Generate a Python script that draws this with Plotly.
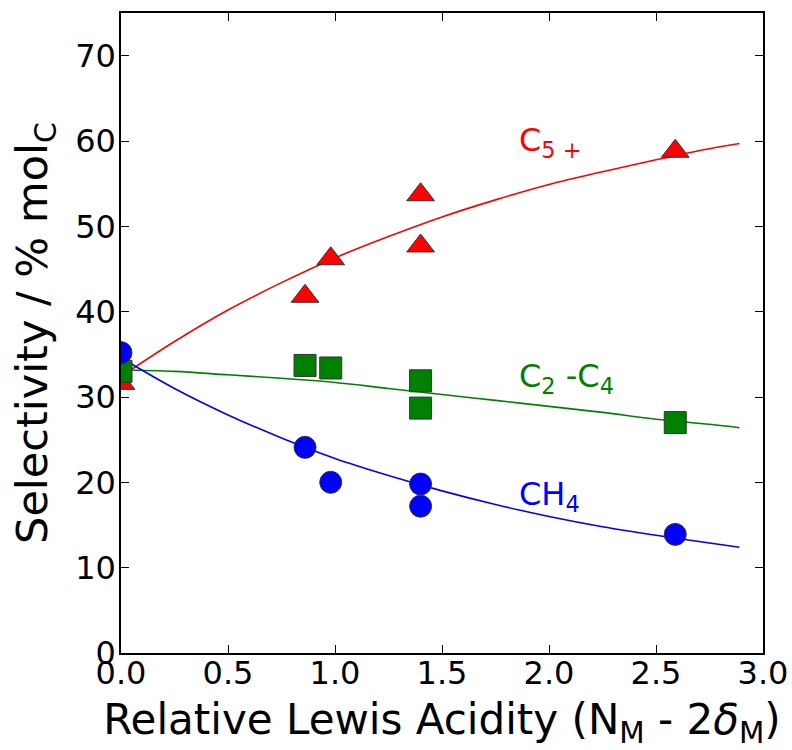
import plotly.graph_objects as go

# Measured points
x_pts = [0.0, 0.86, 0.98, 1.40, 1.40, 2.59]
c5_pts = [31.6, 41.8, 46.2, 53.7, 47.7, 58.8]
c24_pts = [33.0, 33.7, 33.4, 31.9, 28.7, 27.0]
ch4_pts = [35.2, 24.1, 20.0, 19.8, 17.2, 13.9]

# Fitted trend curves
x_fit = [0.0, 0.25, 0.5, 0.75, 1.0, 1.25, 1.5, 1.75, 2.0, 2.25, 2.5, 2.75, 2.89]
c5_fit = [32.4, 36.5, 40.2, 43.4, 46.3, 48.8, 51.1, 53.1, 54.9, 56.4, 57.8, 59.1, 59.7]
c24_fit = [33.2, 33.0, 32.6, 32.2, 31.7, 31.0, 30.3, 29.6, 28.9, 28.2, 27.4, 26.8, 26.4]
ch4_fit = [34.6, 31.0, 27.9, 25.2, 22.8, 20.8, 19.0, 17.4, 16.0, 14.8, 13.8, 12.9, 12.4]

x_ticks = [0.0, 0.5, 1.0, 1.5, 2.0, 2.5, 3.0]
y_ticks = [0, 10, 20, 30, 40, 50, 60, 70]

RED, GREEN, BLUE = "#ff0000", "#008000", "#0000ff"
FONT = "DejaVu Sans"

fig = go.Figure()
for yf, col in [(c5_fit, RED), (c24_fit, GREEN), (ch4_fit, BLUE)]:
    fig.add_trace(go.Scatter(x=x_fit, y=yf, mode="lines",
                             line=dict(color=col, width=1.6, shape="spline"),
                             showlegend=False, hoverinfo="skip"))

edge = dict(color="#333333", width=1)
fig.add_trace(go.Scatter(x=x_pts, y=c5_pts, mode="markers", showlegend=False,
                         marker=dict(symbol="triangle-up", size=24, color=RED, line=edge)))
fig.add_trace(go.Scatter(x=x_pts, y=c24_pts, mode="markers", showlegend=False,
                         marker=dict(symbol="square", size=22, color=GREEN, line=edge)))
fig.add_trace(go.Scatter(x=x_pts, y=ch4_pts, mode="markers", showlegend=False,
                         marker=dict(symbol="circle", size=22, color=BLUE, line=edge)))

labels = [("C<sub>5 +</sub>", 59.9, RED), ("C<sub>2</sub> -C<sub>4</sub>", 32.2, GREEN),
          ("CH<sub>4</sub>", 18.4, BLUE)]
for txt, yy, col in labels:
    fig.add_annotation(x=1.85, y=yy, text=txt, showarrow=False, xanchor="left",
                       yanchor="middle", font=dict(family=FONT, size=32, color=col))

axis_common = dict(showline=True, linecolor="black", linewidth=1.5, mirror="ticks",
                   ticks="inside", ticklen=8, tickwidth=1, tickcolor="black",
                   showgrid=False, zeroline=False,
                   tickfont=dict(family=FONT, size=32, color="black"))

fig.update_xaxes(range=[0, 3.0], tickvals=x_ticks,
                 ticktext=[f"{v:.1f}" for v in x_ticks], ticklabelstandoff=-9,
                 title=dict(text="Relative Lewis Acidity (N<sub>M</sub> - 2<i>δ</i><sub>M</sub>)",
                            font=dict(family=FONT, size=42, color="black"), standoff=16),
                 **axis_common)
fig.update_yaxes(range=[0, 75], tickvals=y_ticks,
                 ticktext=[str(v) for v in y_ticks], ticklabelstandoff=-3,
                 title=dict(text="Selectivity / % mol<sub>C</sub>",
                            font=dict(family=FONT, size=43, color="black"), standoff=14),
                 **axis_common)

fig.update_layout(width=792, height=750, plot_bgcolor="white", paper_bgcolor="white",
                  margin=dict(l=121, r=29, t=13, b=97, autoexpand=False),
                  font=dict(family=FONT))

fig.write_html("out.html")
